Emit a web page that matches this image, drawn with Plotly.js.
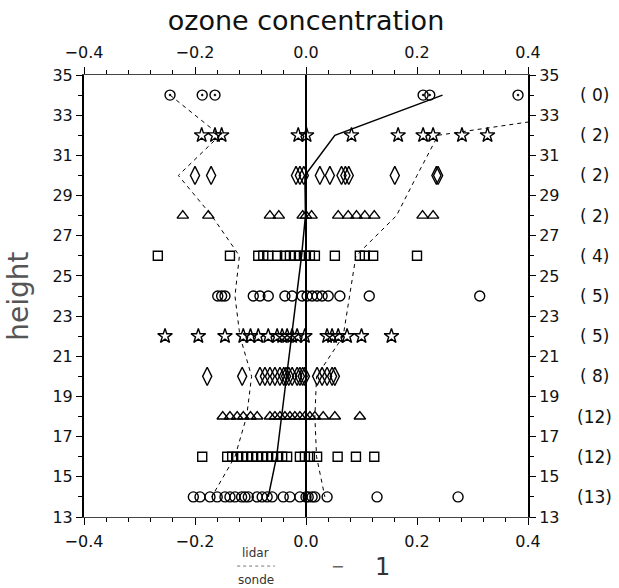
<!DOCTYPE html>
<html>
<head>
<meta charset="utf-8">
<script src="https://cdn.plot.ly/plotly-3.0.1.min.js"></script>
<style>html,body{margin:0;padding:0;background:#fff;}#chart{width:619px;height:588px;}</style>
</head>
<body>
<div id="chart"></div>
<script>
// Heights (km) of each row of points
const heights = [34, 32, 30, 28, 26, 24, 22, 20, 18, 16, 14];
// Number of comparisons per height (right-hand labels)
const counts = ["( 0)", "( 2)", "( 2)", "( 2)", "( 4)", "( 5)", "( 5)", "( 8)", "(12)", "(12)", "(13)"];

// Individual deviations (lidar/sonde - 1) per height
const h34 = [-0.245, -0.187, -0.164, 0.211, 0.223, 0.382];
const h32 = [-0.188, -0.164, -0.152, -0.014, 0.001, 0.082, 0.166, 0.211, 0.229, 0.281, 0.327];
const h30 = [-0.2, -0.171, -0.018, -0.011, -0.004, 0.025, 0.043, 0.064, 0.071, 0.077, 0.16, 0.235, 0.238];
const h28 = [-0.222, -0.176, -0.065, -0.049, -0.006, 0.0, 0.010, 0.058, 0.076, 0.091, 0.106, 0.123, 0.21, 0.229];
const h26 = [-0.267, -0.137, -0.086, -0.077, -0.068, -0.052, -0.038, -0.029, -0.02, -0.011, -0.002, 0.007, 0.016, 0.052, 0.097, 0.106, 0.121, 0.2];
const h24 = [-0.159, -0.152, -0.146, -0.095, -0.083, -0.068, -0.038, -0.025, -0.007, 0.002, 0.011, 0.02, 0.029, 0.04, 0.061, 0.114, 0.313];
const h22 = [-0.254, -0.194, -0.146, -0.113, -0.1, -0.086, -0.068, -0.052, -0.043, -0.034, -0.025, -0.016, -0.002, 0.038, 0.047, 0.058, 0.074, 0.1, 0.154];
const h20 = [-0.178, -0.115, -0.083, -0.074, -0.065, -0.056, -0.047, -0.04, -0.036, -0.031, -0.025, -0.016, -0.011, -0.006, -0.002, 0.02, 0.029, 0.038, 0.047, 0.052];
const h18 = [-0.15, -0.137, -0.124, -0.113, -0.1, -0.088, -0.065, -0.056, -0.047, -0.038, -0.029, -0.02, -0.011, -0.002, 0.007, 0.016, 0.031, 0.052, 0.097];
const h16 = [-0.187, -0.142, -0.133, -0.124, -0.115, -0.106, -0.097, -0.088, -0.079, -0.07, -0.061, -0.052, -0.043, -0.034, -0.011, -0.002, 0.007, 0.02, 0.057, 0.09, 0.123];
const h14 = [-0.203, -0.191, -0.173, -0.16, -0.146, -0.137, -0.128, -0.116, -0.11, -0.104, -0.088, -0.079, -0.07, -0.061, -0.041, -0.029, -0.011, 0.0, 0.004, 0.011, 0.016, 0.038, 0.128, 0.274];

// Profiles per height (34 ... 14)
const medianLine = [0.246, 0.052, -0.002, -0.001, -0.008, -0.017, -0.026, -0.035, -0.044, -0.053, -0.068];
const lowerLine  = [-0.245, -0.155, -0.23, -0.17, -0.12, -0.128, -0.119, -0.098, -0.107, -0.128, -0.17];
const upperLine  = [0.73, 0.238, 0.2, 0.163, 0.09, 0.079, 0.067, 0.019, 0.016, 0.019, 0.034];

// Zero reference line
const zeroX = [0, 0];
const zeroY = [13, 35];

const rows = [
  {h: 34, v: h34, sym: 'circle-open-dot', size: 10},
  {h: 32, v: h32, sym: 'star-open', size: 11},
  {h: 30, v: h30, sym: 'diamond-tall-open', size: 13},
  {h: 28, v: h28, sym: 'triangle-up-open', size: 10},
  {h: 26, v: h26, sym: 'square-open', size: 9},
  {h: 24, v: h24, sym: 'circle-open', size: 10},
  {h: 22, v: h22, sym: 'star-open', size: 11},
  {h: 20, v: h20, sym: 'diamond-tall-open', size: 13},
  {h: 18, v: h18, sym: 'triangle-up-open', size: 10},
  {h: 16, v: h16, sym: 'square-open', size: 9},
  {h: 14, v: h14, sym: 'circle-open', size: 10}
];

const traces = [];
rows.forEach(r => {
  traces.push({
    type: 'scatter', mode: 'markers',
    x: r.v, y: r.v.map(() => r.h),
    marker: {symbol: r.sym, size: r.size, color: '#000', line: {color: '#000', width: 1.4}},
    showlegend: false, hoverinfo: 'skip'
  });
});

traces.push({type: 'scatter', mode: 'lines', x: lowerLine, y: heights,
  line: {color: '#000', width: 1, dash: '4px,4px'}, showlegend: false, hoverinfo: 'skip'});
traces.push({type: 'scatter', mode: 'lines', x: upperLine, y: heights,
  line: {color: '#000', width: 1, dash: '4px,4px'}, showlegend: false, hoverinfo: 'skip'});
traces.push({type: 'scatter', mode: 'lines', x: medianLine, y: heights,
  line: {color: '#000', width: 1.5}, showlegend: false, hoverinfo: 'skip'});
traces.push({type: 'scatter', mode: 'lines', x: zeroX, y: zeroY, xaxis: 'x2', yaxis: 'y2',
  line: {color: '#000', width: 2}, showlegend: false, hoverinfo: 'skip'});

const FONT = 'DejaVu Sans, Verdana, sans-serif';
const xCommon = {
  range: [-0.4, 0.4], tick0: -0.4, dtick: 0.2, tickformat: '.1f',
  ticks: 'outside', ticklen: 7, tickwidth: 1, tickcolor: '#000',
  minor: {tick0: -0.4, dtick: 0.04, ticks: 'outside', ticklen: 4, tickwidth: 1, tickcolor: '#000'},
  showline: true, linecolor: '#444', linewidth: 1,
  showgrid: false, zeroline: false, fixedrange: true,
  ticklabelstandoff: 3,
  tickfont: {family: FONT, size: 16, color: '#111'}
};
const yCommon = {
  range: [13, 35], tick0: 13, dtick: 2,
  ticks: 'outside', ticklen: 6, tickwidth: 1, tickcolor: '#000',
  minor: {tick0: 13, dtick: 1, ticks: 'outside', ticklen: 4, tickwidth: 1, tickcolor: '#000'},
  showline: true, linecolor: '#000', linewidth: 2,
  showgrid: false, zeroline: false, fixedrange: true,
  tickfont: {family: FONT, size: 16, color: '#111'}
};

const annotations = [
  {text: 'height', xref: 'paper', yref: 'paper', x: -0.149, y: 0.5, xanchor: 'center', yanchor: 'middle',
   textangle: -90, showarrow: false, font: {family: FONT, size: 28, color: '#555'}},
  {text: 'lidar', xref: 'paper', yref: 'paper', x: 0.387, y: -0.081, xanchor: 'center', yanchor: 'middle',
   showarrow: false, font: {family: FONT, size: 12, color: '#333'}},
  {text: 'sonde', xref: 'paper', yref: 'paper', x: 0.387, y: -0.142, xanchor: 'center', yanchor: 'middle',
   showarrow: false, font: {family: FONT, size: 12, color: '#333'}},
  {text: '−', xref: 'paper', yref: 'paper', x: 0.57, y: -0.112, xanchor: 'center', yanchor: 'middle',
   showarrow: false, font: {family: FONT, size: 16, color: '#666'}},
  {text: '1', xref: 'paper', yref: 'paper', x: 0.673, y: -0.112, xanchor: 'center', yanchor: 'middle',
   showarrow: false, font: {family: FONT, size: 24, color: '#333'}}
];
heights.forEach((h, i) => {
  annotations.push({text: counts[i], xref: 'paper', yref: 'y', x: 1.149, y: h, xanchor: 'center', yanchor: 'middle',
    showarrow: false, font: {family: FONT, size: 17, color: '#111'}});
});

const layout = {
  width: 619, height: 588,
  margin: {l: 84, r: 91, t: 75, b: 71},
  paper_bgcolor: '#fff', plot_bgcolor: '#fff',
  font: {family: FONT, color: '#111'},
  title: {text: 'ozone concentration', xref: 'paper', x: 0.5, xanchor: 'center',
          yref: 'container', y: 0.965, yanchor: 'middle',
          font: {family: FONT, size: 27, color: '#111'}},
  xaxis: Object.assign({}, xCommon, {side: 'bottom', anchor: 'y'}),
  xaxis2: Object.assign({}, xCommon, {side: 'top', overlaying: 'x', anchor: 'y', matches: 'x'}),
  yaxis: Object.assign({}, yCommon, {side: 'left', anchor: 'x'}),
  yaxis2: Object.assign({}, yCommon, {side: 'right', overlaying: 'y', anchor: 'x', matches: 'y'}),
  annotations: annotations,
  shapes: [
    {type: 'line', xref: 'paper', yref: 'paper', x0: 0.345, x1: 0.43, y0: -0.111, y1: -0.111,
     line: {color: '#777', width: 1, dash: 'dot'}}
  ]
};

Plotly.newPlot('chart', traces, layout, {displayModeBar: false, staticPlot: true});
</script>
</body>
</html>
